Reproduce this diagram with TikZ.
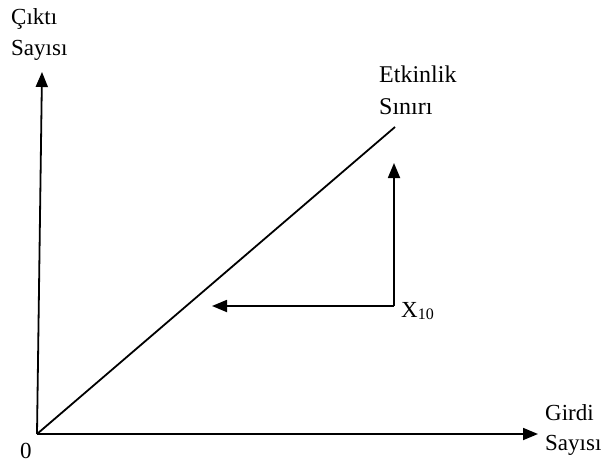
\documentclass[tikz,border=0pt]{standalone}
\usepackage{fontspec}
\setmainfont{Liberation Serif}
\usetikzlibrary{arrows.meta}
\begin{document}
\begin{tikzpicture}[x=1pt,y=-1pt,
  lbl/.style={anchor=base west,inner sep=0pt,font=\fontsize{23}{27}\selectfont},
  wlbl/.style={anchor=base west,inner sep=0pt,font=\fontsize{24}{28}\selectfont},
  ax/.style={line width=1.8pt,-{Triangle[length=15pt,width=12pt]}},
  ln/.style={line width=1.8pt}]
\useasboundingbox (0,0) rectangle (610,463);
\coordinate (O) at (37,434);
\coordinate (Ytop) at (42,72);
\coordinate (Xend) at (538,434);
\coordinate (Dend) at (395,127);
\coordinate (P) at (394,306);
\coordinate (Up) at (394,163);
\coordinate (Left) at (212,306);
\draw[ax] (O) -- (Ytop);
\draw[ax] (O) -- (Xend);
\draw[ln] (O) -- (Dend);
\draw[ax] (P) -- (Up);
\draw[ax] (P) -- (Left);
\node[lbl] (ylab1) at (11,24) {Çıktı};
\node[lbl] (ylab2) at (11,55) {Sayısı};
\node[wlbl] (dlab1) at (379,82) {Etkinlik};
\node[wlbl] (dlab2) at (379,114) {Sınırı};
\node[lbl] (xlab1) at (545,420) {Girdi};
\node[lbl] (xlab2) at (545,450) {Sayısı};
\node[anchor=base west,inner sep=0pt,font=\fontsize{23}{27}\selectfont] (x10) at (401,317) {X\raisebox{-0.1em}{\fontsize{16}{18}\selectfont 10}};
\node[anchor=base west,inner sep=0pt,font=\fontsize{23}{27}\selectfont] (zero) at (20,458) {0};
\end{tikzpicture}
\end{document}
